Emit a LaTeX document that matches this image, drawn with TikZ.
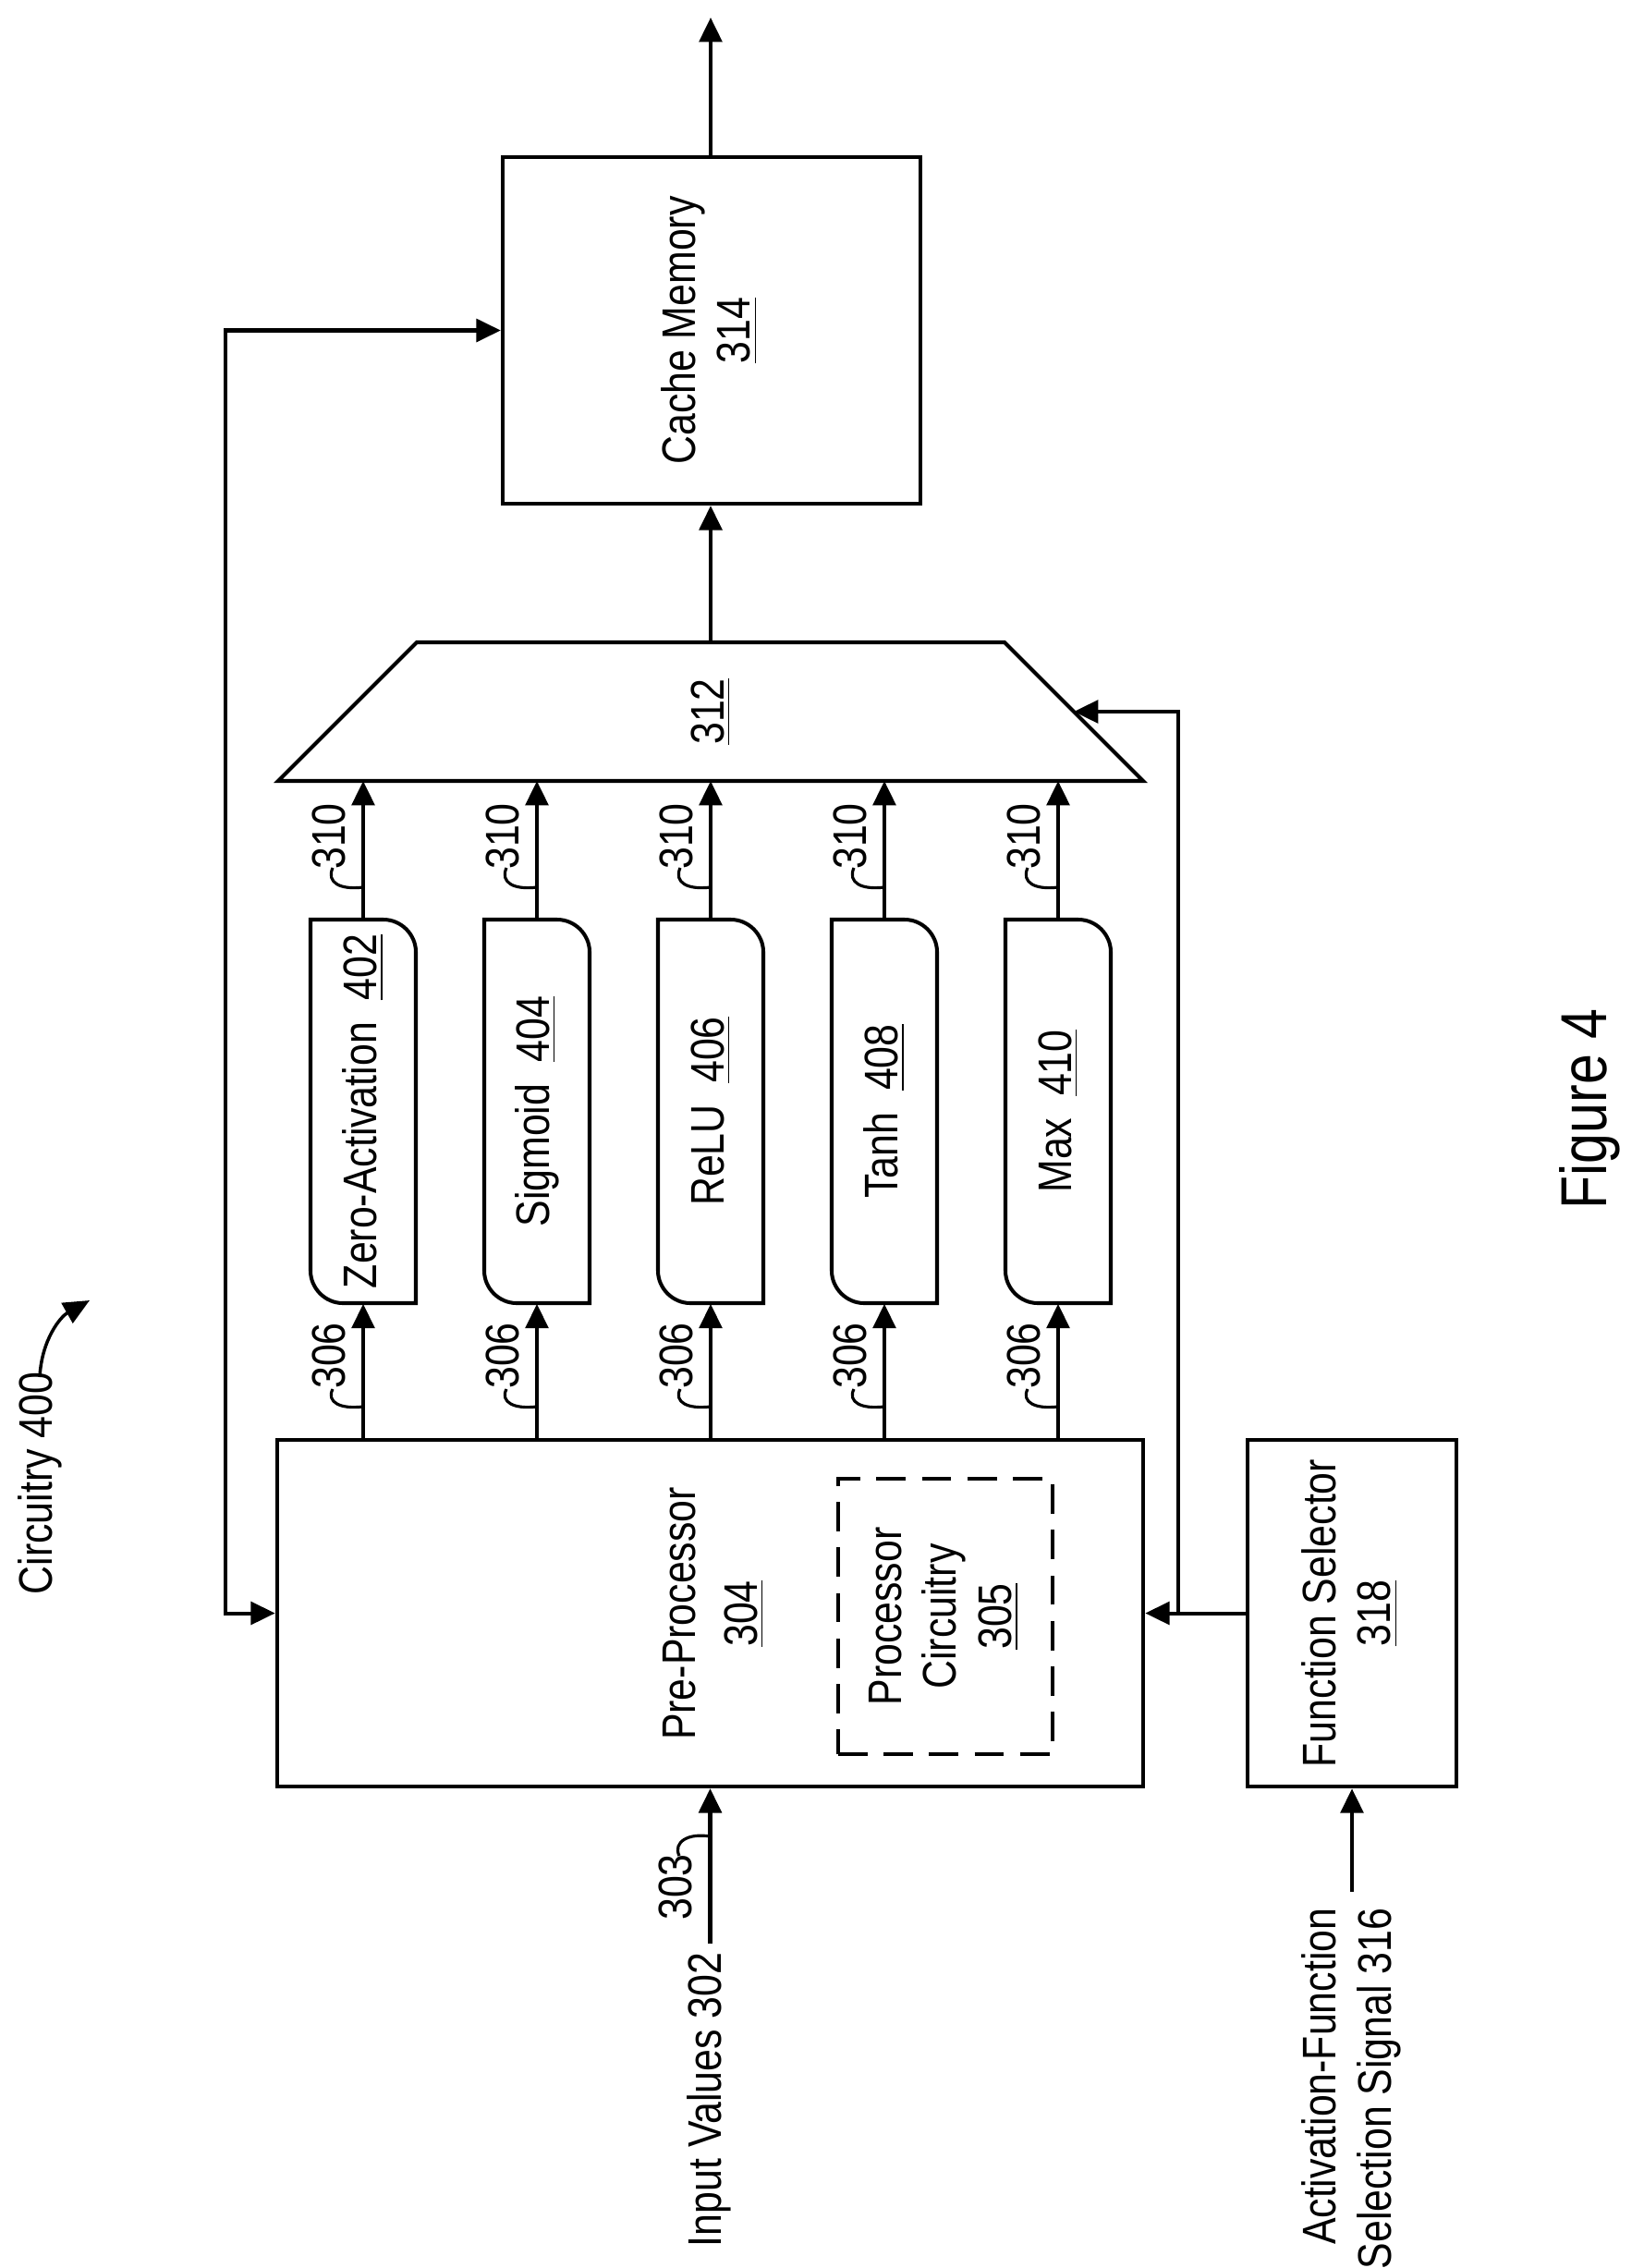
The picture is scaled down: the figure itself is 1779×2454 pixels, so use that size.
\documentclass[tikz,border=0pt]{standalone}
\usepackage{fontspec}
\setmainfont{Liberation Sans}[FakeStretch=0.84]
\usetikzlibrary{arrows.meta}
\begin{document}
\fontsize{14.5}{17}\selectfont
\begin{tikzpicture}[x=0.01cm,y=-0.01cm,
  ln/.style={line width=1.15pt},
  arr/.style={ln,-{Triangle[length=7.5pt,width=7pt]}},
  box/.style={ln,draw,rectangle,inner sep=0pt},
  lbl/.style={rotate=90,inner sep=0pt},
  sq/.style={line width=0.9pt}]
\useasboundingbox (0,0) rectangle (1779,2454);
% cache
\node[box,minimum width=45.2mm,minimum height=37.5mm] (cache) at (770,357.5)
  {\rotatebox{90}{\begin{tabular}{c}Cache Memory\\\underline{314}\end{tabular}}};
\coordinate (out) at (769,19);
\draw[arr] (cache.north -| out) -- (out);
% mux
\draw[ln] (451,695) -- (1087,695) -- (1237,845) -- (301,845) -- cycle;
\node[lbl] (mux) at (769,770) {\underline{312}};
\coordinate (muxtop) at (769,695);
\coordinate (muxbot) at (769,845);
\coordinate (msel) at (1162,770);
\draw[arr] (muxtop) -- (cache.south -| muxtop);
% preprocessor
\node[box,minimum width=93.7mm,minimum height=37.5mm] (pre) at (768.5,1745.5) {};
\node[lbl,align=center] (pretxt) at (772,1746) {Pre-Processor\\[2pt]\underline{304}};
\node[ln,draw,dash pattern=on 9pt off 5pt,minimum width=23.2mm,minimum height=29.8mm,align=center] (proc) at (1023,1749)
  {\rotatebox{90}{\begin{tabular}{c}Processor\\Circuitry\\\underline{305}\end{tabular}}};
% function selector
\node[box,minimum width=22.6mm,minimum height=37.5mm] (fs) at (1463,1745.5)
  {\rotatebox{90}{\begin{tabular}{c}Function Selector\\\underline{318}\end{tabular}}};
% activation blocks
\foreach \x/\n/\t in {393/1/{Zero-Activation\ \ \underline{402}},581/2/{Sigmoid\ \ \underline{404}},769/3/{ReLU\ \ \underline{406}},957/4/{Tanh\ \ \underline{408}},1145/5/{Max\ \ \underline{410}}}{
  \draw[ln] ({\x-57},995) -- ({\x+22},995) .. controls ({\x+41},995) and ({\x+57},1011) .. ({\x+57},1030)
     -- ({\x+57},1410) -- ({\x-22},1410) .. controls ({\x-41},1410) and ({\x-57},1394) .. ({\x-57},1375) -- cycle;
  \node[minimum width=11.4mm,minimum height=41.5mm,inner sep=0pt] (act\n) at (\x,1202.5) {\rotatebox{90}{\t}};
  \draw[arr] (act\n.south |- pre.north) -- (act\n.south);
  \draw[arr] (act\n.north) -- (act\n.north |- muxbot);
  \node[lbl] (l310\n) at ({\x-37},905) {310};
  \draw[sq] (\x,960) .. controls ({\x-25},963) and ({\x-40},955) .. ({\x-33},939);
  \node[lbl] (l306\n) at ({\x-37},1467) {306};
  \draw[sq] (\x,1522) .. controls ({\x-25},1525) and ({\x-40},1517) .. ({\x-33},1503);
}
% selector connections
\coordinate (br) at (1275,1745.5);
\draw[arr] (fs.west) -- (pre.east);
\draw[arr] (br) -- (br |- msel) -- (msel);
% feedback
\coordinate (fb1) at (244,1745.5);
\coordinate (fb2) at (244,357.5);
\draw[ln,{Triangle[length=7.5pt,width=7pt]}-{Triangle[length=7.5pt,width=7pt]}] (pre.west) -- (fb1) -- (fb2) -- (cache.west);
% inputs
\coordinate (in) at (768.5,2103);
\draw[arr] (in) -- (pre.south);
\node[lbl,anchor=east] (inv) at (767,2112) {Input Values 302};
\node[lbl] (l303) at (731,2042) {303};
\draw[sq] (768.5,1987) .. controls (745,1983) and (728,1993) .. (735,2008);
\coordinate (sel) at (1463,2047);
\draw[arr] (sel) -- (fs.south);
\node[lbl,anchor=east,align=right] (afs) at (1462,2064) {Activation-Function\\Selection Signal 316};
% circuitry
\node[lbl] (circ) at (43,1605) {Circuitry 400};
\coordinate (circend) at (97,1407);
\draw[sq,line width=1pt,-{Triangle[length=8pt,width=7pt]}] (43,1490) .. controls (45,1450) and (65,1425) .. (circend);
\node[lbl,font=\fontsize{20}{24}\selectfont] (fig) at (1720,1200) {Figure 4};
\end{tikzpicture}
\end{document}
